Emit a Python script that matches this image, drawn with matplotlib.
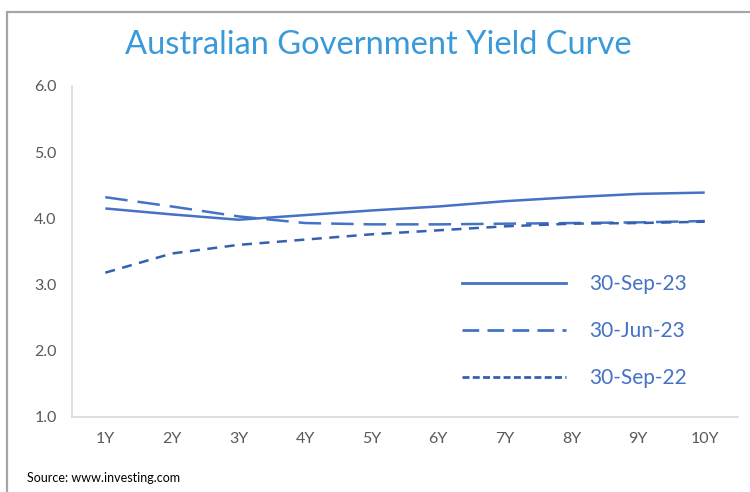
import matplotlib.pyplot as plt
from matplotlib.lines import Line2D
from matplotlib.patches import Rectangle

plt.rcParams['font.family'] = ['Lato', 'DejaVu Sans']

tenors = ['1Y', '2Y', '3Y', '4Y', '5Y', '6Y', '7Y', '8Y', '9Y', '10Y']
sep23 = [4.15, 4.06, 3.98, 4.05, 4.12, 4.18, 4.26, 4.32, 4.37, 4.39]
jun23 = [4.32, 4.18, 4.03, 3.93, 3.91, 3.91, 3.92, 3.93, 3.94, 3.96]
sep22 = [3.18, 3.47, 3.60, 3.68, 3.76, 3.82, 3.88, 3.92, 3.93, 3.95]
labels = ['30-Sep-23', '30-Jun-23', '30-Sep-22']

blue = '#4472c4'
dark_blue = '#3560b0'

fig = plt.figure(figsize=(7.5, 4.92), dpi=100)
ax = fig.add_axes([72/750, 75/492, 666/750, 331/492])

x = range(1, len(tenors) + 1)
ax.plot(x, sep23, color=blue, lw=1.8, solid_capstyle='butt')
ax.plot(x, jun23, color=blue, lw=1.8, dashes=(9, 4))
ax.plot(x, sep22, color=dark_blue, lw=1.8, dashes=(4, 3))

ax.set_xlim(0.5, len(tenors) + 0.5)
ax.set_ylim(1.0, 6.0)
ax.set_xticks(list(x))
ax.set_xticklabels(tenors)
ax.set_yticks([1, 2, 3, 4, 5, 6])
ax.set_yticklabels([f'{v:.1f}' for v in [1, 2, 3, 4, 5, 6]])
ax.tick_params(length=0, labelsize=11.5, labelcolor='#595959')
ax.tick_params(axis='y', pad=11)
ax.tick_params(axis='x', pad=11)
for s in ['top', 'right']:
    ax.spines[s].set_visible(False)
for s in ['left', 'bottom']:
    ax.spines[s].set_color('#d9d9d9')
    ax.spines[s].set_linewidth(1.2)

handles = [
    Line2D([], [], color=blue, lw=2),
    Line2D([], [], color=blue, lw=2, dashes=(6, 3)),
    Line2D([], [], color=dark_blue, lw=2, dashes=(2.5, 1.2)),
]
leg = ax.legend(handles, labels, loc='center left', frameon=False,
                bbox_to_anchor=(462/750, 1 - 331/492), bbox_transform=fig.transFigure,
                borderpad=0, borderaxespad=0, fontsize=15, handlelength=5.0,
                handletextpad=1.1, labelspacing=1.3, labelcolor=blue)

fig.text(0.505, 1 - 45/492, 'Australian Government Yield Curve', ha='center', va='center',
         fontsize=23.5, color='#3a9ad9')
fig.text(27/750, 1 - 478/492, 'Source: www.investing.com', ha='left', va='center',
         fontsize=9, color='black')

fig.patches.append(Rectangle((7/750, -0.1), 1.2, 1 - 12/492 + 0.1, transform=fig.transFigure,
                             fill=False, edgecolor='#a6a6a6', lw=1.6))

fig.savefig('out.png', dpi=100)
